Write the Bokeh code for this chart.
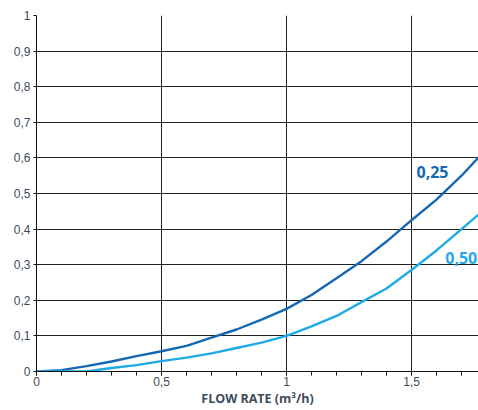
from bokeh.plotting import figure
from bokeh.models import FixedTicker, Range1d
from bokeh.core.properties import value
from bokeh.embed import file_html
from bokeh.resources import INLINE

flow = [0, 0.1, 0.2, 0.3, 0.4, 0.5, 0.6, 0.7, 0.8, 0.9, 1.0, 1.1, 1.2, 1.3, 1.4, 1.5, 1.6, 1.7, 1.8]
s025 = [0, 0.004, 0.015, 0.028, 0.043, 0.057, 0.072, 0.095, 0.118, 0.146, 0.176, 0.215, 0.262, 0.31, 0.365, 0.425, 0.483, 0.55, 0.625]
s050 = [0, 0, 0, 0.01, 0.018, 0.029, 0.039, 0.051, 0.066, 0.081, 0.1, 0.127, 0.156, 0.195, 0.233, 0.285, 0.34, 0.4, 0.46]
series_labels = ["0,25", "0,50"]
label_x = [1.52, 1.635]
label_y = [0.56, 0.32]
x_ticks = [0, 0.5, 1, 1.5]
x_tick_labels = ["0", "0,5", "1", "1,5"]
y_ticks = [0, 0.1, 0.2, 0.3, 0.4, 0.5, 0.6, 0.7, 0.8, 0.9, 1.0]
y_tick_labels = ["0", "0,1", "0,2", "0,3", "0,4", "0,5", "0,6", "0,7", "0,8", "0,9", "1"]
x_title = "FLOW RATE (m³/h)"

dark = "#1468b3"
light = "#1eaae6"
tick_col = "#3d4b58"

p = figure(width=478, height=410, output_backend="svg", toolbar_location=None,
           x_range=Range1d(0, 1.768), y_range=Range1d(0, 1.0))
p.min_border_left = 36
p.min_border_right = 0
p.min_border_top = 15
p.min_border_bottom = 39
p.outline_line_color = None
p.background_fill_color = "white"
p.border_fill_color = "white"

p.line(flow, s025, line_color=dark, line_width=2.4)
p.line(flow, s050, line_color=light, line_width=2.4)

cols = [dark, light]
for i in range(2):
    p.text(x=[label_x[i]], y=[label_y[i]], text=[series_labels[i]], text_color=cols[i],
           text_font=value("Open Sans"), text_font_style="bold", text_font_size="16px",
           text_align="left", text_baseline="middle")

# grid
p.xgrid.ticker = FixedTicker(ticks=[0.5, 1, 1.5])
p.ygrid.ticker = FixedTicker(ticks=y_ticks[1:])
p.xgrid.grid_line_color = "#222222"
p.ygrid.grid_line_color = "#222222"
p.xgrid.grid_line_width = 1
p.ygrid.grid_line_width = 1

# x axis
xa = p.xaxis[0]
xa.ticker = FixedTicker(ticks=x_ticks, minor_ticks=[i / 10 for i in range(0, 18)])
xa.major_label_overrides = {t: l for t, l in zip(x_ticks, x_tick_labels)}
xa.axis_line_color = "#111111"
xa.major_tick_line_color = "#111111"
xa.minor_tick_line_color = "#111111"
xa.major_tick_out = 4
xa.major_tick_in = 0
xa.minor_tick_out = 4
xa.minor_tick_in = 0
xa.major_label_text_font = "Liberation Sans"
xa.major_label_text_font_size = "12px"
xa.major_label_text_color = tick_col
xa.major_label_standoff = 1
xa.axis_label = x_title
xa.axis_label_text_font = "Open Sans"
xa.axis_label_text_font_style = "bold"
xa.axis_label_text_font_size = "12.5px"
xa.axis_label_text_color = tick_col
xa.axis_label_standoff = 1

# y axis
ya = p.yaxis[0]
ya.ticker = FixedTicker(ticks=y_ticks)
ya.major_label_overrides = {t: l for t, l in zip(y_ticks, y_tick_labels)}
ya.axis_line_color = "#111111"
ya.major_tick_line_color = "#111111"
ya.minor_tick_line_color = None
ya.major_tick_out = 3
ya.major_tick_in = 0
ya.major_label_text_font = "Liberation Sans"
ya.major_label_text_font_size = "12px"
ya.major_label_text_color = tick_col
ya.major_label_standoff = 3

open("out.html", "w").write(file_html(p, INLINE))
